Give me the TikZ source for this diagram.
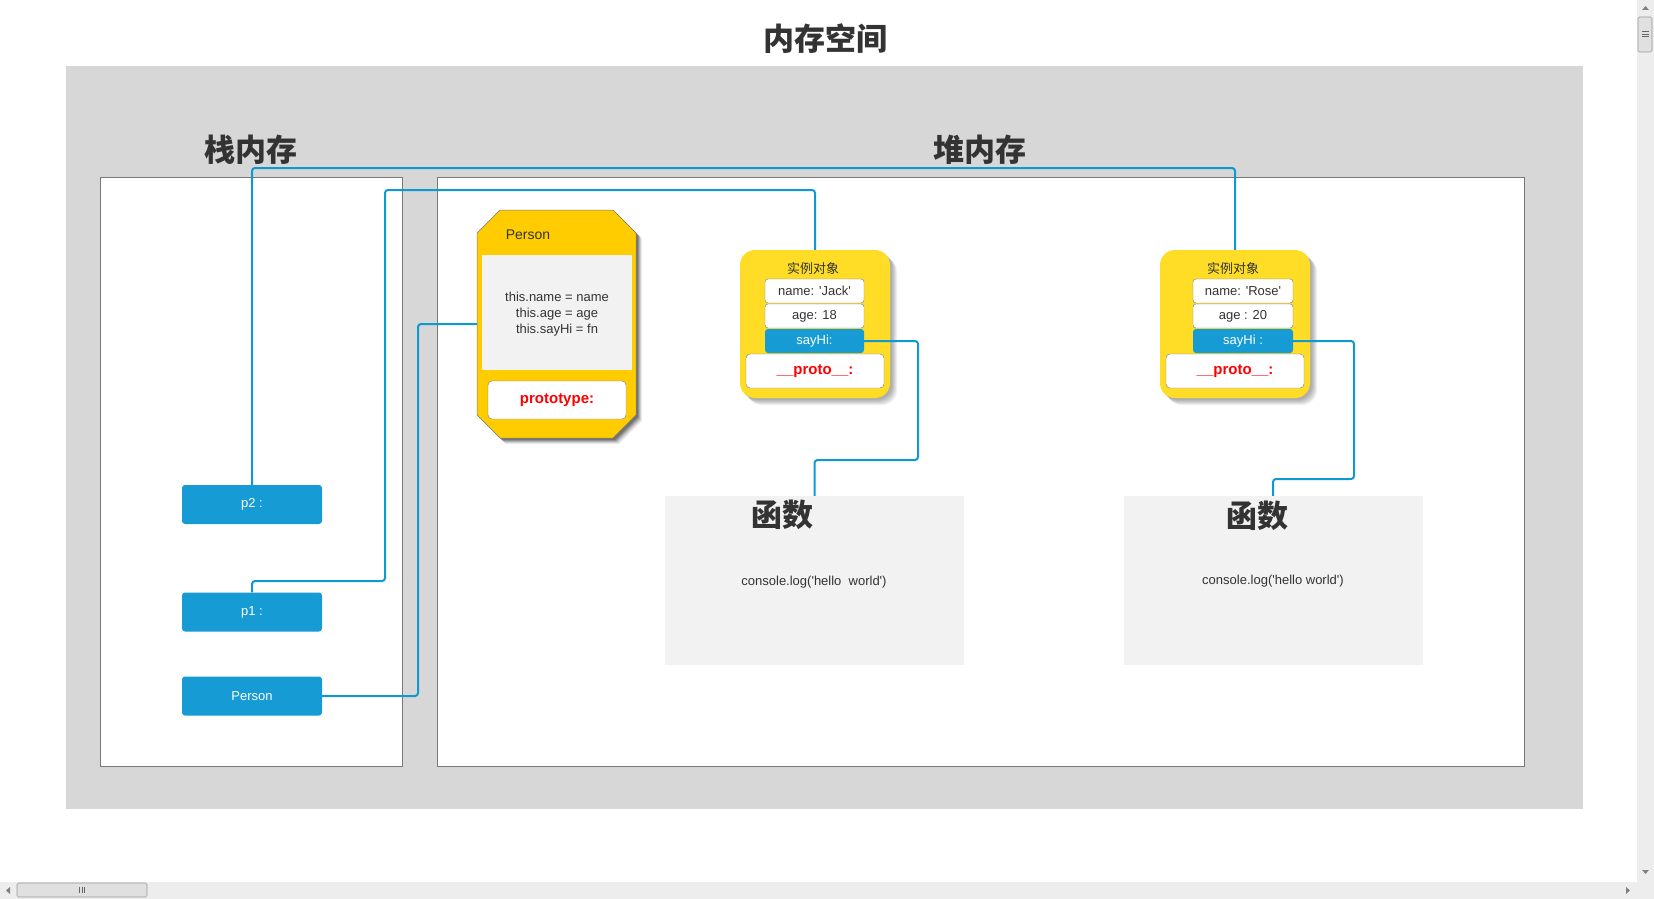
\documentclass[tikz,border=0pt]{standalone}
\usepackage{fontspec}
\setmainfont{Liberation Sans}[Ligatures=TeXOff]
\newfontfamily\cjk{Noto Sans CJK SC}
\usetikzlibrary{calc}
\definecolor{bgg}{HTML}{D7D7D7}
\definecolor{axblue}{HTML}{169BD5}
\definecolor{linkc}{HTML}{0E9AD0}
\definecolor{octy}{HTML}{FFCC00}
\definecolor{insty}{HTML}{FFDD27}
\definecolor{fng}{HTML}{F2F2F2}
\definecolor{txt}{HTML}{333333}
\definecolor{bord}{HTML}{797979}
\definecolor{sbar}{HTML}{EDEDED}
\begin{document}
\begin{tikzpicture}[x=1pt,y=-1pt,
  bigtitle/.style={font=\cjk\bfseries\fontsize{31}{34}\selectfont, text=txt, inner sep=0},
  stackvar/.style={fill=axblue, rounded corners=3, minimum width=140, minimum height=39, text=white, font=\fontsize{13}{15}\selectfont, inner sep=0},
  fieldbox/.style={draw=bord, fill=white, rounded corners=3, minimum width=99, minimum height=24, inner sep=0, font=\fontsize{13}{15}\selectfont, text=txt},
  sayfield/.style={fill=axblue, rounded corners=3, minimum width=99, minimum height=24, inner sep=0, font=\fontsize{13}{15}\selectfont, text=white},
  protobox/.style={draw=bord, fill=white, rounded corners=4, minimum width=138, minimum height=34, inner sep=0, font=\bfseries\fontsize{15}{17}\selectfont, text=red},
  instbox/.style={fill=insty, rounded corners=15, minimum width=150, minimum height=148, inner sep=0},
  instshadow/.style={fill=black, opacity=0.06, rounded corners=15, minimum width=150, minimum height=148, inner sep=0},
  fnbox/.style={fill=fng, minimum width=299, minimum height=169, inner sep=0},
  memarea/.style={draw=bord, fill=white, line width=0.8},
  link/.style={draw=linkc, line width=2, rounded corners=3},
  smalltxt/.style={font=\fontsize{13}{16}\selectfont, text=txt, inner sep=0, align=center}
]
\useasboundingbox (0,0) rectangle (1654,899);
\fill[white] (0,0) rectangle (1654,899);

% title and background
\node[bigtitle] (title) at (825,39) {内存空间};
\fill[bgg] (66,66) rectangle (1583,809);
\node[bigtitle] (stacklabel) at (251,150) {栈内存};
\node[bigtitle] (heaplabel) at (980,150) {堆内存};
\draw[memarea] (100,177) rectangle (402,766);
\draw[memarea] (437,177) rectangle (1524,766);

% stack variables
\node[stackvar] (p2) at (252,504.5) {p2 :};
\node[stackvar] (p1) at (252,612) {p1 :};
\node[stackvar] (pvar) at (252,696) {Person};

% Person constructor (octagon) with soft shadow
\foreach \s/\o in {2/0.22,3/0.18,4/0.14,5/0.10,6/0.07} {
  \begin{scope}[shift={(\s,\s)}]
    \fill[black, opacity=\o] (500,210)--(613,210)--(636,233)--(636,415)--(613,438)--(500,438)--(477,415)--(477,233)--cycle;
  \end{scope}
}
\filldraw[fill=octy, draw=bord, line width=0.5] (500,210)--(613,210)--(636,233)--(636,415)--(613,438)--(500,438)--(477,415)--(477,233)--cycle;
\node[inner sep=0, minimum width=159, minimum height=228] (oct) at (556.5,324) {};
\node[smalltxt, font=\fontsize{14}{16}\selectfont] (octname) at (528,235) {Person};
\fill[fng] (482,255) rectangle (632,370);
\node[smalltxt] (octbody) at (557,314) {this.name = name\\this.age = age\\this.sayHi = fn};
\node[protobox, minimum width=138, minimum height=38] (proto0) at (557,400) {prototype:};

% instance 1
\foreach \s in {2,3,4,5,6,7} { \node[instshadow] at (815+\s,324+\s) {}; }
\node[instbox] (inst1) at (815,324) {};
\node[smalltxt, font=\cjk\fontsize{13}{15}\selectfont] (inst1t) at (813,269) {实例对象};
\node[fieldbox] (name1) at (814.5,291) {name: 'Jack'};
\node[fieldbox] (age1) at (814.5,316) {age: 18};
\node[sayfield] (say1) at (814.5,341) {sayHi:};
\node[protobox] (proto1) at (815,371) {\_\_proto\_\_:};

% instance 2
\foreach \s in {2,3,4,5,6,7} { \node[instshadow] at (1235+\s,324+\s) {}; }
\node[instbox] (inst2) at (1235,324) {};
\node[smalltxt, font=\cjk\fontsize{13}{15}\selectfont] (inst2t) at (1233,269) {实例对象};
\node[fieldbox, minimum width=100] (name2) at (1243,291) {name: 'Rose'};
\node[fieldbox, minimum width=100] (age2) at (1243,316) {age : 20};
\node[sayfield, minimum width=100] (say2) at (1243,341) {sayHi :};
\node[protobox] (proto2) at (1235,371) {\_\_proto\_\_:};

% functions
\node[fnbox] (fn1) at (814.5,580.5) {};
\node[bigtitle] (fn1t) at (782,515) {函数};
\node[smalltxt] (fn1c) at (814,582) {console.log('hello\ \ world')};
\node[fnbox] (fn2) at (1273,580.5) {};
\node[bigtitle] (fn2t) at (1257,516) {函数};
\node[smalltxt] (fn2c) at (1273,581) {console.log('hello world')};

% connectors
\coordinate (yp2) at (0,168);
\coordinate (p1a) at (385,581);
\coordinate (p1b) at (385,190);
\coordinate (xpv) at (418,0);
\coordinate (s1x) at (918,0);
\coordinate (s1y) at (0,460);
\coordinate (s2x) at (1354,0);
\coordinate (s2y) at (0,479);
\draw[link] (p2.north) -- (p2.north |- yp2) -| (inst2.north);
\draw[link] (p1.north) |- (p1a) -- (p1b) -| (inst1.north);
\draw[link] (pvar.east) -- (pvar.east -| xpv) |- (oct.west);
\draw[link] (say1.east) -- (say1.east -| s1x) -- (s1x |- s1y) -| (fn1.north);
\draw[link] (say2.east) -- (say2.east -| s2x) -- (s2x |- s2y) -| (fn2.north);

% scrollbars
\fill[sbar] (1637,0) rectangle (1654,899);
\fill[sbar] (0,882) rectangle (1654,899);
\filldraw[fill=black!12, draw=black!40, rounded corners=1.5, line width=0.6] (1638,17) rectangle (1652,52);
\filldraw[fill=black!12, draw=black!40, rounded corners=1.5, line width=0.6] (17,883) rectangle (147,897);
\foreach \d in {-2.5,0,2.5} {
  \draw[black!60, line width=1] (1641.5,34.5+\d) -- (1648.5,34.5+\d);
  \draw[black!60, line width=1] (82+\d,887) -- (82+\d,893);
}
\fill[black!50] (1642,10) -- (1649,10) -- (1645.5,6) -- cycle;
\fill[black!50] (1642,870) -- (1649,870) -- (1645.5,874) -- cycle;
\fill[black!50] (10,887) -- (10,894) -- (6,890.5) -- cycle;
\fill[black!50] (1626,887) -- (1626,894) -- (1630,890.5) -- cycle;
\end{tikzpicture}
\end{document}
